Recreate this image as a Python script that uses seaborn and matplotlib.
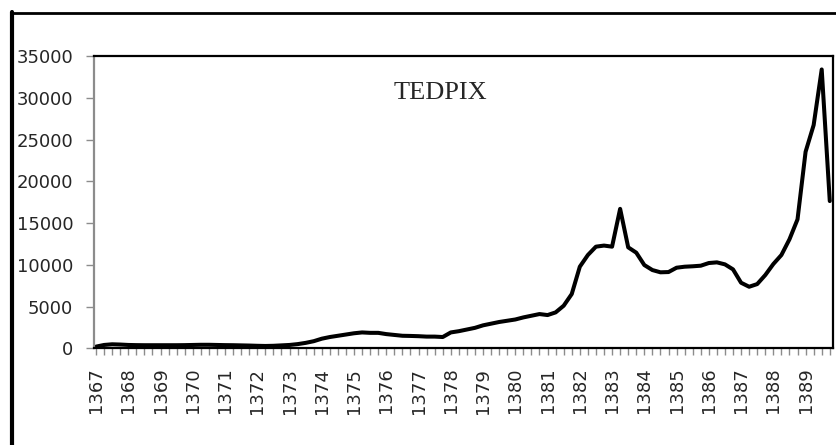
import numpy as np
import pandas as pd
import matplotlib
matplotlib.use('Agg')
import matplotlib.pyplot as plt
from matplotlib.lines import Line2D
import seaborn as sns

# 분기별 TEDPIX (1367 ~ 1389)
years = list(range(1367, 1390))
tedpix = [
    200, 400, 480, 450,        # 1367
    400, 380, 370, 370,        # 1368
    370, 370, 370, 380,        # 1369
    400, 420, 420, 400,        # 1370
    380, 370, 350, 330,        # 1371
    300, 280, 300, 350,        # 1372
    400, 500, 650, 850,        # 1373
    1150, 1350, 1500, 1650,    # 1374
    1800, 1900, 1850, 1850,    # 1375
    1700, 1600, 1500, 1480,    # 1376
    1450, 1400, 1400, 1350,    # 1377
    1900, 2050, 2250, 2450,    # 1378
    2750, 2950, 3150, 3300,    # 1379
    3450, 3700, 3900, 4100,    # 1380
    3980, 4300, 5100, 6500,    # 1381
    9770, 11170, 12170, 12300,  # 1382
    12170, 16700, 12090, 11450,  # 1383
    9970, 9370, 9100, 9130,    # 1384
    9650, 9770, 9820, 9890,    # 1385
    10210, 10290, 10050, 9450,  # 1386
    7850, 7370, 7690, 8770,    # 1387
    10090, 11170, 13050, 15440,  # 1388
    23530, 26730, 33390, 17630,  # 1389
]
y_ticks = [0, 5000, 10000, 15000, 20000, 25000, 30000, 35000]

df = pd.DataFrame({'idx': np.arange(len(tedpix)), 'tedpix': tedpix})

sns.set_style('white')
plt.rcParams['font.family'] = ['DejaVu Sans']

fig = plt.figure(figsize=(8.37, 4.45), dpi=100)
ax = fig.add_axes([94 / 837, 1 - 348.3 / 445, (833 - 94) / 837, (348.3 - 56) / 445])

sns.lineplot(data=df, x='idx', y='tedpix', color='black', linewidth=2.9, ax=ax)

# 첫 점과 마지막 점이 테두리에서 살짝 떨어져 있음
ax.set_xlim(-0.25, len(tedpix) - 1 + 0.4)
ax.set_ylim(0, 35000)
ax.set_yticks(y_ticks)
ax.set_yticklabels([str(v) for v in y_ticks], fontsize=13)

# 분기마다 눈금, 연도 라벨은 1분기에만
ax.set_xticks(np.arange(len(tedpix)))
labels = []
for i in range(len(tedpix)):
    labels.append(str(years[i // 4]) if i % 4 == 0 else '')
ax.set_xticklabels(labels, rotation=90, fontsize=13)

ax.tick_params(axis='x', direction='out', length=5, width=1, color='#8c8c8c', pad=9, bottom=True)
ax.tick_params(axis='y', direction='out', length=6, width=1, color='#8c8c8c', pad=9, left=True)
ax.set_xlabel('')
ax.set_ylabel('')

for side in ['top', 'right', 'bottom']:
    ax.spines[side].set_color('black')
    ax.spines[side].set_linewidth(1.6)
ax.spines['left'].set_color('#8c8c8c')
ax.spines['left'].set_linewidth(1.6)

fig.text(440 / 837, 1 - 93 / 445, 'TEDPIX', fontsize=19, family='Liberation Serif',
         ha='center', va='center')

# 바깥 테두리 (왼쪽, 위쪽만 보임)
fig.add_artist(Line2D([12 / 837, 12 / 837], [0, 1 - 12 / 445], transform=fig.transFigure,
                      color='black', linewidth=3))
fig.add_artist(Line2D([11 / 837, 1.0], [1 - 12.5 / 445, 1 - 12.5 / 445], transform=fig.transFigure,
                      color='black', linewidth=2))

fig.savefig('out.png', dpi=100)
